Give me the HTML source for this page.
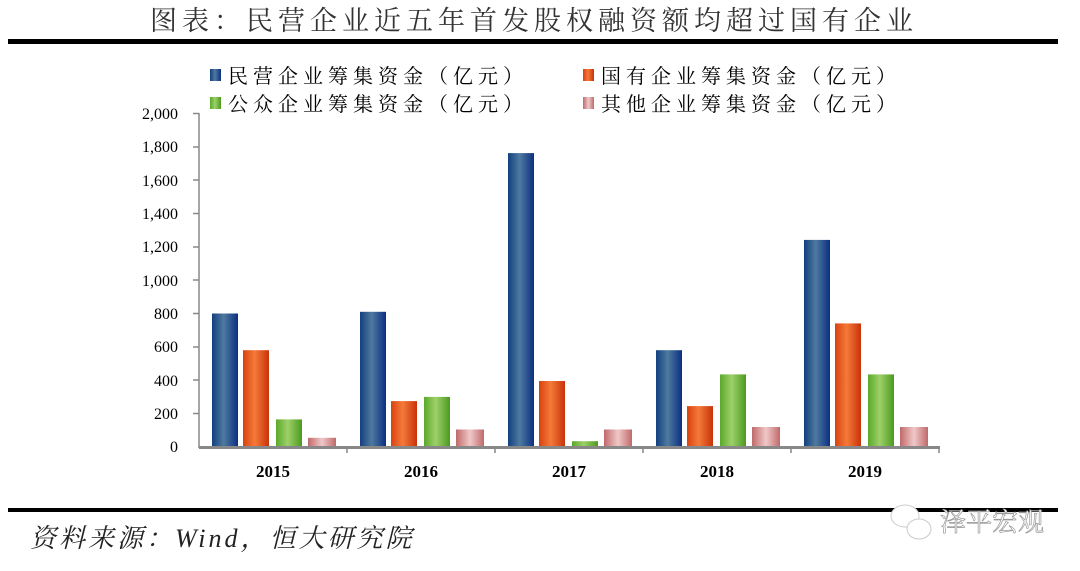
<!DOCTYPE html>
<html><head><meta charset="utf-8"><style>
html,body{margin:0;padding:0;background:#fff;width:1080px;height:571px;overflow:hidden}
text{font-family:"Liberation Serif","Noto Serif CJK SC",serif}
</style></head><body>
<svg width="1080" height="571" xmlns="http://www.w3.org/2000/svg">
<defs>
<linearGradient id="gb" x1="0" x2="1"><stop offset="0" stop-color="#12407e"/><stop offset=".45" stop-color="#4f7aa0"/><stop offset="1" stop-color="#0b2f80"/></linearGradient>
<linearGradient id="go" x1="0" x2="1"><stop offset="0" stop-color="#d9420e"/><stop offset=".45" stop-color="#f47a3a"/><stop offset="1" stop-color="#c83208"/></linearGradient>
<linearGradient id="gg" x1="0" x2="1"><stop offset="0" stop-color="#5aa82a"/><stop offset=".45" stop-color="#9ed06a"/><stop offset="1" stop-color="#4b9a1e"/></linearGradient>
<linearGradient id="gp" x1="0" x2="1"><stop offset="0" stop-color="#c06a6a"/><stop offset=".5" stop-color="#f0c8c8"/><stop offset="1" stop-color="#c06a6a"/></linearGradient>
</defs>
<text x="534" y="30" font-size="27" text-anchor="middle" fill="#333" letter-spacing="5">图表：民营企业近五年首发股权融资额均超过国有企业</text>
<rect x="8" y="39" width="1050" height="5" fill="#000"/>
<g font-size="20" fill="#000" letter-spacing="5">
<rect x="210" y="69" width="11" height="12" fill="url(#gb)"/><text x="228" y="83">民营企业筹集资金（亿元）</text>
<rect x="583" y="69" width="11" height="12" fill="url(#go)"/><text x="601" y="83">国有企业筹集资金（亿元）</text>
<rect x="210" y="97" width="11" height="12" fill="url(#gg)"/><text x="228" y="111">公众企业筹集资金（亿元）</text>
<rect x="583" y="97" width="11" height="12" fill="url(#gp)"/><text x="601" y="111">其他企业筹集资金（亿元）</text>
</g>
<g font-size="16" text-anchor="end" fill="#000">
<text x="178" y="119">2,000</text><text x="178" y="152">1,800</text><text x="178" y="186">1,600</text><text x="178" y="219">1,400</text><text x="178" y="252">1,200</text><text x="178" y="286">1,000</text><text x="178" y="319">800</text><text x="178" y="352">600</text><text x="178" y="386">400</text><text x="178" y="419">200</text><text x="178" y="452">0</text>
</g>
<g stroke="#888" stroke-width="1.5">
<line x1="199" y1="113" x2="199" y2="448"/>
<line x1="193" y1="113.5" x2="199" y2="113.5"/><line x1="193" y1="147" x2="199" y2="147"/><line x1="193" y1="180" x2="199" y2="180"/><line x1="193" y1="213.5" x2="199" y2="213.5"/><line x1="193" y1="247" x2="199" y2="247"/><line x1="193" y1="280" x2="199" y2="280"/><line x1="193" y1="313.5" x2="199" y2="313.5"/><line x1="193" y1="347" x2="199" y2="347"/><line x1="193" y1="380" x2="199" y2="380"/><line x1="193" y1="413.5" x2="199" y2="413.5"/>
</g>
<g id="bars">
<rect x="212" y="313.5" width="26" height="133.5" fill="url(#gb)"/><rect x="243" y="350.2" width="26" height="96.8" fill="url(#go)"/><rect x="276" y="419.4" width="26" height="27.6" fill="url(#gg)"/><rect x="308" y="437.8" width="28" height="9.2" fill="url(#gp)"/>
<rect x="360" y="311.8" width="26" height="135.2" fill="url(#gb)"/><rect x="391" y="401.1" width="26" height="45.9" fill="url(#go)"/><rect x="424" y="396.9" width="26" height="50.1" fill="url(#gg)"/><rect x="456" y="429.5" width="28" height="17.5" fill="url(#gp)"/>
<rect x="508" y="153.1" width="26" height="293.9" fill="url(#gb)"/><rect x="539" y="381" width="26" height="66" fill="url(#go)"/><rect x="572" y="441.2" width="26" height="5.8" fill="url(#gg)"/><rect x="604" y="429.5" width="28" height="17.5" fill="url(#gp)"/>
<rect x="656" y="350.2" width="26" height="96.8" fill="url(#gb)"/><rect x="687" y="406.1" width="26" height="40.9" fill="url(#go)"/><rect x="720" y="374.4" width="26" height="72.6" fill="url(#gg)"/><rect x="752" y="427" width="28" height="20" fill="url(#gp)"/>
<rect x="804" y="239.9" width="26" height="207.1" fill="url(#gb)"/><rect x="835" y="323.4" width="26" height="123.6" fill="url(#go)"/><rect x="868" y="374.4" width="26" height="72.6" fill="url(#gg)"/><rect x="900" y="427" width="28" height="20" fill="url(#gp)"/>
</g>
<rect x="199" y="446" width="741" height="3" fill="#888"/>
<g stroke="#888" stroke-width="1.5"><line x1="347" y1="447" x2="347" y2="453"/><line x1="495" y1="447" x2="495" y2="453"/><line x1="643" y1="447" x2="643" y2="453"/><line x1="791" y1="447" x2="791" y2="453"/><line x1="939" y1="447" x2="939" y2="453"/></g>
<g font-size="17" font-weight="bold" text-anchor="middle" fill="#000">
<text x="273" y="477">2015</text><text x="421" y="477">2016</text><text x="569" y="477">2017</text><text x="717" y="477">2018</text><text x="865" y="477">2019</text>
</g>
<rect x="8" y="508" width="1050" height="4" fill="#000"/>
<text x="30" y="547" font-size="26" font-style="italic" fill="#222" letter-spacing="3">资料来源：Wind，恒大研究院</text>
<ellipse cx="905" cy="516" rx="14" ry="11" fill="#fff" stroke="#ccc"/>
<ellipse cx="919" cy="529" rx="12" ry="10" fill="#fff" stroke="#ccc"/>
<text x="940" y="531" font-size="26" fill="#fff" stroke="#999" stroke-width="0.7">泽平宏观</text>
</svg>
</body></html>
